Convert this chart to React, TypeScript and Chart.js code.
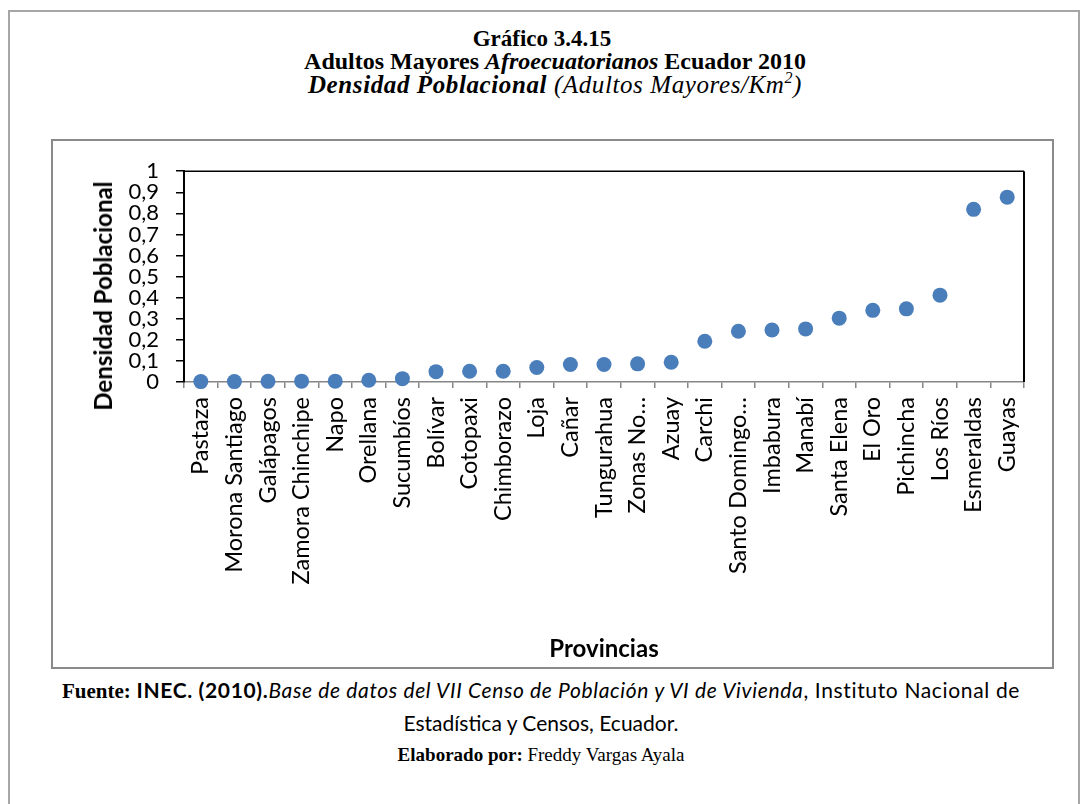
import React, { useEffect, useRef } from "react";
import { Chart, registerables } from "chart.js";

Chart.register(...registerables);

const categories: string[] = [
  "Pastaza",
  "Morona Santiago",
  "Galápagos",
  "Zamora Chinchipe",
  "Napo",
  "Orellana",
  "Sucumbíos",
  "Bolívar",
  "Cotopaxi",
  "Chimborazo",
  "Loja",
  "Cañar",
  "Tungurahua",
  "Zonas No…",
  "Azuay",
  "Carchi",
  "Santo Domingo…",
  "Imbabura",
  "Manabí",
  "Santa Elena",
  "El Oro",
  "Pichincha",
  "Los Ríos",
  "Esmeraldas",
  "Guayas",
];

const densidad: number[] = [
  0.002, 0.002, 0.003, 0.004, 0.004, 0.008, 0.016, 0.049, 0.051, 0.051,
  0.069, 0.083, 0.083, 0.086, 0.094, 0.193, 0.241, 0.247, 0.252, 0.303,
  0.34, 0.347, 0.412, 0.819, 0.877,
];

const yMin = 0;
const yMax = 1;
const yStep = 0.1;
const yAxisTitle = "Densidad Poblacional";
const xAxisTitle = "Provincias";

const AXIS_FONT = "Lato, 'Noto Sans', sans-serif";
const SERIF = "'Liberation Serif', 'Times New Roman', serif";

const plotFrame = {
  id: "plotFrame",
  beforeDatasetsDraw(chart: any) {
    const { ctx, chartArea } = chart;
    ctx.save();
    ctx.strokeStyle = "#000";
    ctx.lineWidth = 1.5;
    ctx.beginPath();
    ctx.moveTo(chartArea.left, chartArea.top);
    ctx.lineTo(chartArea.right, chartArea.top);
    ctx.stroke();
    ctx.lineWidth = 2;
    ctx.beginPath();
    ctx.moveTo(chartArea.right, chartArea.top);
    ctx.lineTo(chartArea.right, chartArea.bottom);
    ctx.stroke();
    ctx.restore();
  },
};

function formatTick(v: number): string {
  const r = Math.round(v * 10) / 10;
  if (r === 0) return "0";
  if (r === 1) return "1";
  return r.toFixed(1).replace(".", ",");
}

export default function App() {
  const canvasRef = useRef<HTMLCanvasElement | null>(null);

  useEffect(() => {
    if (!canvasRef.current) return;
    const chart = new Chart(canvasRef.current, {
      type: "line",
      data: {
        labels: categories,
        datasets: [
          {
            data: densidad,
            showLine: false,
            pointRadius: 7.5,
            pointHoverRadius: 7.5,
            pointBackgroundColor: "#4A7EBB",
            pointBorderColor: "#4A7EBB",
            pointBorderWidth: 0,
            clip: false as any,
          },
        ],
      },
      options: {
        animation: false,
        responsive: false,
        devicePixelRatio: 1,
        layout: { padding: { top: 29, right: 28, left: 0, bottom: 0 } },
        plugins: {
          legend: { display: false },
          tooltip: { enabled: false },
        },
        scales: {
          x: {
            type: "category",
            offset: true,
            grid: {
              offset: true,
              drawOnChartArea: false,
              drawTicks: true,
              tickLength: 6,
              color: "#868686",
              lineWidth: 1.5,
            },
            border: { color: "#868686", width: 1.5 },
            ticks: {
              autoSkip: false,
              minRotation: 90,
              maxRotation: 90,
              padding: 9,
              color: "#000",
              font: { family: AXIS_FONT, size: 23.5 },
            },
            title: {
              display: true,
              text: xAxisTitle,
              color: "#000",
              font: { family: AXIS_FONT, size: 24, weight: "bold" },
              padding: { top: 0, bottom: 3 },
            },
            afterFit: (s: any) => {
              s.height = 285;
            },
          },
          y: {
            min: yMin,
            max: yMax,
            grid: {
              drawOnChartArea: false,
              drawTicks: true,
              tickLength: 8,
              color: "#000",
              lineWidth: 1.5,
            },
            border: { color: "#000", width: 2 },
            ticks: {
              stepSize: yStep,
              autoSkip: false,
              padding: 17,
              color: "#000",
              font: { family: AXIS_FONT, size: 22 },
              callback: (v: any) => formatTick(Number(v)),
            },
            title: { display: false },
            afterFit: (s: any) => {
              s.width = 131;
            },
          },
        },
      },
      plugins: [plotFrame],
    });
    return () => chart.destroy();
  }, []);

  const titleLine: React.CSSProperties = {
    position: "absolute",
    left: 0,
    width: 1110,
    textAlign: "center",
    fontFamily: SERIF,
    fontSize: 23,
    lineHeight: "23px",
    whiteSpace: "nowrap",
    color: "#000",
  };

  const footLine: React.CSSProperties = {
    position: "absolute",
    left: 0,
    width: 1082,
    textAlign: "center",
    fontFamily: AXIS_FONT,
    fontSize: 21,
    lineHeight: "24px",
    whiteSpace: "nowrap",
    color: "#000",
  };

  return (
    <div
      style={{
        position: "absolute",
        left: 0,
        top: 0,
        width: 1081,
        height: 804,
        background: "#fff",
        overflow: "hidden",
      }}
    >
      <div
        style={{
          position: "absolute",
          left: 8,
          top: 10,
          width: 1072,
          height: 830,
          border: "2px solid #a6a6a6",
          boxSizing: "border-box",
        }}
      />
      <div style={{ ...titleLine, top: 27, width: 1084, fontWeight: "bold" }}>
        Gráfico 3.4.15
      </div>
      <div style={{ ...titleLine, top: 50, fontSize: 24, fontWeight: "bold" }}>
        Adultos Mayores <i>Afroecuatorianos</i> Ecuador 2010
      </div>
      <div
        style={{
          ...titleLine,
          top: 72,
          fontSize: 25,
          lineHeight: "25px",
          letterSpacing: 0.6,
          fontStyle: "italic",
        }}
      >
        <b>Densidad Poblacional</b> (Adultos Mayores/Km
        <span style={{ fontSize: 16, position: "relative", top: -10 }}>2</span>)
      </div>

      <div
        style={{
          position: "absolute",
          left: 51,
          top: 139,
          width: 1003,
          height: 530,
          border: "2px solid #8a8a8a",
          boxSizing: "border-box",
          background: "#fff",
        }}
      >
        <canvas
          ref={canvasRef}
          width={999}
          height={526}
          style={{ display: "block", width: 999, height: 526 }}
        />
      </div>

      <div
        style={{
          position: "absolute",
          left: 103,
          top: 296,
          transform: "translate(-50%, -50%) rotate(-90deg)",
          fontFamily: AXIS_FONT,
          fontWeight: "bold",
          fontSize: 24,
          lineHeight: "26px",
          whiteSpace: "nowrap",
          color: "#000",
        }}
      >
        {yAxisTitle}
      </div>

      <div style={{ ...footLine, top: 678, letterSpacing: 0.65 }}>
        <span style={{ fontFamily: SERIF, fontWeight: "bold", fontSize: 21, letterSpacing: 0 }}>Fuente:</span>
        <span style={{ fontWeight: "bold" }}> INEC. (2010).</span>
        <span style={{ fontStyle: "italic" }}>
          Base de datos del VII Censo de Población y VI de Vivienda
        </span>
        <span>, Instituto Nacional de</span>
      </div>
      <div style={{ ...footLine, top: 711 }}>Estadística y Censos, Ecuador.</div>
      <div style={{ ...footLine, top: 743, fontFamily: SERIF, fontSize: 19 }}>
        <b>Elaborado por:</b> Freddy Vargas Ayala
      </div>
    </div>
  );
}
